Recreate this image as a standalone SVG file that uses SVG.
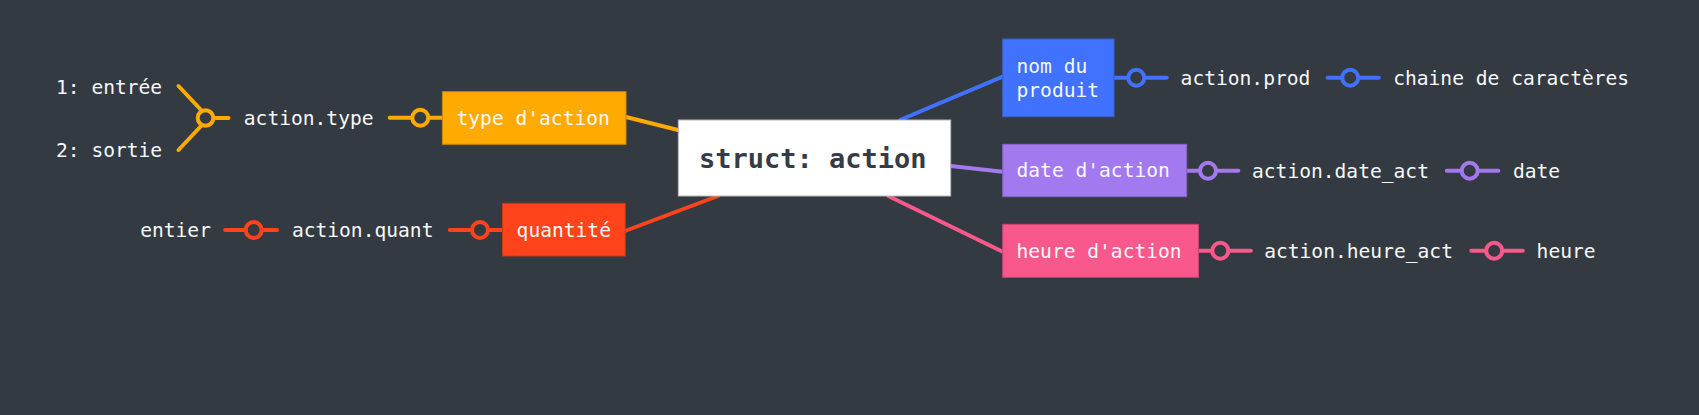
<svg xmlns="http://www.w3.org/2000/svg" width="1699" height="415" viewBox="0 0 1699 415">
<style>
.t{font-family:"DejaVu Sans Mono","Liberation Mono",monospace;font-size:19.6px;fill:#f6f8fa}
.c{font-family:"DejaVu Sans Mono","Liberation Mono",monospace;font-size:27px;font-weight:bold;fill:#363c44}
.ln{fill:none;stroke-width:4;stroke-linecap:round}
.dot{fill:#343a41;stroke-width:4}
.or{stroke:#ffaa00}.rd{stroke:#ff431b}.bl{stroke:#4171ff}.pu{stroke:#a279ee}.pk{stroke:#f8588b}
</style>
<rect width="1699" height="415" fill="#343a41"/>
<g id="connectors">
<line class="ln or" x1="626" y1="117" x2="690" y2="133"/>
<line class="ln rd" x1="625" y1="231" x2="718" y2="196"/>
<line class="ln bl" x1="900" y1="120" x2="1002.7" y2="76.7"/>
<line class="ln pu" x1="950.7" y1="166" x2="1002.7" y2="171.7"/>
<line class="ln pk" x1="888.3" y1="196" x2="1002.7" y2="251.7"/>
<line class="ln or" x1="178.5" y1="86" x2="202" y2="111"/>
<line class="ln or" x1="178.5" y1="150" x2="202" y2="125"/>
<line class="ln or" x1="205.5" y1="118" x2="228.5" y2="118"/>
<circle class="dot or" cx="205.5" cy="118" r="7.8"/>
<line class="ln or" x1="389.7" y1="117.7" x2="442.4" y2="117.7"/>
<circle class="dot or" cx="420.3" cy="117.7" r="8"/>
<line class="ln rd" x1="225.1" y1="230" x2="277" y2="230"/>
<circle class="dot rd" cx="253.7" cy="230" r="8"/>
<line class="ln rd" x1="449.8" y1="230" x2="502.5" y2="230"/>
<circle class="dot rd" cx="480" cy="230" r="8"/>
<line class="ln bl" x1="1114" y1="77.7" x2="1166.8" y2="77.7"/>
<circle class="dot bl" cx="1136.3" cy="77.7" r="8"/>
<line class="ln bl" x1="1327.6" y1="77.7" x2="1378.8" y2="77.7"/>
<circle class="dot bl" cx="1350.2" cy="77.7" r="8"/>
<line class="ln pu" x1="1186.7" y1="170.7" x2="1238.3" y2="170.7"/>
<circle class="dot pu" cx="1208" cy="170.7" r="8"/>
<line class="ln pu" x1="1446.8" y1="170.7" x2="1498.4" y2="170.7"/>
<circle class="dot pu" cx="1469.7" cy="170.7" r="8"/>
<line class="ln pk" x1="1198.5" y1="250.7" x2="1250.9" y2="250.7"/>
<circle class="dot pk" cx="1220.3" cy="250.7" r="8"/>
<line class="ln pk" x1="1471.3" y1="250.7" x2="1522.8" y2="250.7"/>
<circle class="dot pk" cx="1494.2" cy="250.7" r="8"/>
</g>
<g id="center">
<rect x="678.3" y="120" width="272.4" height="76" fill="#ffffff" stroke="#b8b8b8" stroke-width="1"/>
<text class="c" x="699" y="167.7">struct: action</text>
</g>
<g id="type">
<rect x="442.4" y="91.7" width="183.6" height="52.6" fill="#ffaa00" stroke="#c98a00" stroke-width="1"/>
<text class="t" x="456.5" y="125">type d'action</text>
</g>
<g id="quant">
<rect x="502.5" y="203.3" width="122.7" height="52.7" fill="#ff431b" stroke="#c8381a" stroke-width="1"/>
<text class="t" x="516.6" y="236.7">quantité</text>
</g>
<g id="nom">
<rect x="1002.7" y="39" width="111.3" height="77.7" fill="#4171ff" stroke="#3660d0" stroke-width="1"/>
<text class="t" x="1016.5" y="73.3">nom du</text>
<text class="t" x="1016.5" y="97.3">produit</text>
</g>
<g id="date">
<rect x="1002.7" y="144.3" width="184" height="52.4" fill="#a279ee" stroke="#8662c8" stroke-width="1"/>
<text class="t" x="1016.5" y="177.2">date d'action</text>
</g>
<g id="heure">
<rect x="1002.7" y="224.3" width="195.8" height="53" fill="#f8588b" stroke="#c84672" stroke-width="1"/>
<text class="t" x="1016.5" y="257.5">heure d'action</text>
</g>
<g id="labels">
<text class="t" x="56" y="94">1: entrée</text>
<text class="t" x="56" y="157.3">2: sortie</text>
<text class="t" x="243.8" y="125">action.type</text>
<text class="t" x="140.2" y="236.7">entier</text>
<text class="t" x="291.9" y="236.7">action.quant</text>
<text class="t" x="1180.6" y="84.7">action.prod</text>
<text class="t" x="1393.2" y="84.7">chaine de caractères</text>
<text class="t" x="1252" y="177.7">action.date_act</text>
<text class="t" x="1512.9" y="177.7">date</text>
<text class="t" x="1264.2" y="257.7">action.heure_act</text>
<text class="t" x="1536.6" y="257.7">heure</text>
</g>
</svg>
